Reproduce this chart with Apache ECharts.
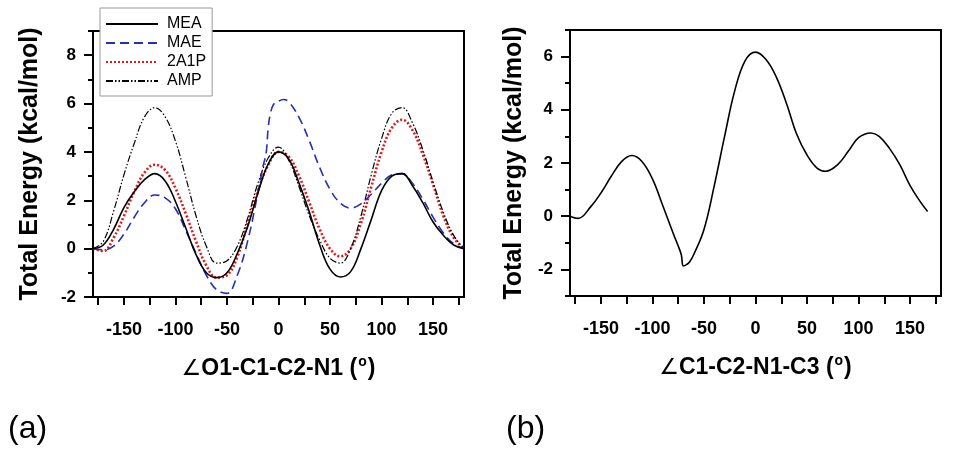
<!DOCTYPE html>
<html><head><meta charset="utf-8">
<script src="https://cdn.jsdelivr.net/npm/echarts@6/dist/echarts.min.js"></script>
<style>html,body{margin:0;padding:0;background:#fff}#c{width:955px;height:453px}</style>
</head><body><div id="c"></div>
<script>
// ---- Panel (a): O1-C1-C2-N1 dihedral scan ----
const angleA = [-180,-170,-160,-150,-140,-130,-120,-110,-100,-90,-80,-70,-60,-50,-40,-30,-20,-10,0,10,20,30,40,50,60,70,80,90,100,110,120,130,140,150,160,170,180];
const mea  = [0,0.15,0.8,1.7,2.35,2.85,3.1,2.8,1.95,0.85,-0.25,-1.0,-1.2,-1.0,-0.2,0.9,2.3,3.5,4.0,3.7,2.7,1.5,0.15,-0.85,-1.17,-0.95,0.0,1.2,2.4,3.0,3.1,2.6,1.9,1.1,0.55,0.15,0];
const a2p  = [0,-0.1,0.45,1.35,2.35,3.15,3.47,3.25,2.5,1.45,0.3,-0.7,-1.2,-1.1,-0.35,1.05,2.4,3.45,4.0,3.8,3.0,1.9,0.8,0.0,-0.32,0.0,1.05,2.55,4.0,5.0,5.33,4.9,3.9,2.65,1.35,0.45,0];
const amp  = [0,0.3,1.55,3.05,4.35,5.45,5.83,5.45,4.45,2.95,1.35,0.1,-0.6,-0.5,0.1,1.25,2.7,3.75,4.2,3.65,2.55,1.35,0.35,-0.4,-0.6,0.0,1.35,3.05,4.55,5.6,5.83,5.2,4.1,2.75,1.5,0.55,0];
const maeAngle = [-180,-170,-160,-150,-140,-130,-120,-110,-100,-90,-80,-70,-60,-50,-40,-30,-20,-15,-12,-10,-8,-5,0,5,10,20,30,40,50,60,70,80,90,100,110,120,130,140,150,160,170,180];
const mae  = [0,-0.05,0.1,0.6,1.3,1.9,2.22,2.1,1.65,0.75,-0.2,-1.1,-1.7,-1.85,-1.1,0.3,2.3,3.4,3.95,5.0,5.55,5.95,6.1,6.17,6.07,5.42,4.45,3.35,2.45,1.88,1.68,1.85,2.25,2.7,3.05,3.1,2.7,2.05,1.3,0.65,0.2,0];
const legendNames = ['MEA','MAE','2A1P','AMP'];

// ---- Panel (b): C1-C2-N1-C3 dihedral scan ----
const angleB  = [-180,-172,-160,-150,-140,-130,-120,-110,-100,-90,-80,-75,-72,-70,-67,-64,-60,-50,-40,-30,-20,-10,0,10,20,30,40,50,60,68,80,90,100,112,120,130,140,150,160,167];
const energyB = [0,-0.08,0.35,0.87,1.5,2.05,2.28,2.05,1.4,0.4,-0.63,-1.12,-1.45,-1.87,-1.82,-1.72,-1.45,-0.5,1.15,3.0,4.74,5.85,6.17,5.9,5.25,4.25,3.08,2.3,1.8,1.69,1.95,2.44,2.95,3.13,3.0,2.55,1.94,1.15,0.54,0.18];

// ---- ticks ----
const xLabelVals = [-150,-100,-50,0,50,100,150];
const xTickVals  = [-175,-150,-125,-100,-75,-50,-25,0,25,50,75,100,125,150,175];
const yMajorA = [-2,0,2,4,6,8];
const yMinorA = [-1,1,3,5,7,9];
const yMajorB = [-2,0,2,4,6];
const yMinorB = [-3,-1,1,3,5,7];

const FF = '"Liberation Sans", Arial, sans-serif';
const pairs = (xs, ys) => xs.map((x, i) => [x, ys[i]]);

function xAxisFor(g, title) {
  return {
    type: 'value', gridIndex: g, min: -180, max: 180, position: 'bottom',
    axisLine: { show: true, onZero: false, lineStyle: { color: '#000', width: 2 } },
    axisTick: { show: true, inside: false, length: 8, customValues: xTickVals, lineStyle: { color: '#000', width: 2 } },
    axisLabel: { customValues: xLabelVals, margin: 24, fontSize: 18, fontWeight: 'bold', fontFamily: FF, color: '#000' },
    splitLine: { show: false },
    name: title, nameLocation: 'middle', nameGap: 58,
    nameTextStyle: {
      color: '#000', fontFamily: FF,
      rich: {
        ang: { fontSize: 22, fontFamily: '"DejaVu Sans", sans-serif', fontWeight: 'normal', color: '#000' },
        b: { fontSize: 23, fontWeight: 'bold', fontFamily: FF, color: '#000' },
        sup: { fontSize: 14, fontWeight: 'bold', fontFamily: FF, color: '#000', verticalAlign: 'top', padding: [0, 1, 14, 1] }
      }
    }
  };
}
function yAxesFor(g, min, max, majors, minors, gap) {
  return [{
    type: 'value', gridIndex: g, min: min, max: max, position: 'left',
    axisLine: { show: true, onZero: false, lineStyle: { color: '#000', width: 2 } },
    axisTick: { show: true, length: 9, customValues: majors, lineStyle: { color: '#000', width: 2 } },
    axisLabel: { customValues: majors, margin: 17, fontSize: 17, fontWeight: 'bold', fontFamily: FF, color: '#000' },
    splitLine: { show: false },
    name: 'Total Energy (kcal/mol)', nameLocation: 'middle', nameGap: gap,
    nameTextStyle: { fontSize: 25, fontWeight: 'bold', fontFamily: FF, color: '#000' }
  }, {
    type: 'value', gridIndex: g, min: min, max: max, position: 'left',
    axisLine: { show: false, onZero: false },
    axisTick: { show: true, length: 5, customValues: minors, lineStyle: { color: '#000', width: 2 } },
    axisLabel: { show: false },
    splitLine: { show: false }
  }];
}

const chart = echarts.init(document.getElementById('c'), null, { renderer: 'canvas' });
const yA = yAxesFor(0, -2, 9, yMajorA, yMinorA, 50);
const yB = yAxesFor(1, -3, 7, yMajorB, yMinorB, 43);
chart.setOption({
  backgroundColor: '#fff',
  animation: false,
  grid: [
    { left: 93, right: 491, top: 31, bottom: 156, show: true, borderColor: '#000', borderWidth: 2, backgroundColor: 'transparent' },
    { left: 570, right: 14, top: 30, bottom: 157, show: true, borderColor: '#000', borderWidth: 2, backgroundColor: 'transparent' }
  ],
  xAxis: [
    xAxisFor(0, '{ang|∠}{b|O1-C1-C2-N1 (}{sup|o}{b|)}'),
    xAxisFor(1, '{ang|∠}{b|C1-C2-N1-C3 (}{sup|o}{b|)}')
  ],
  yAxis: [yA[0], yA[1], yB[0], yB[1]],
  legend: {
    data: legendNames,
    orient: 'vertical', left: 100, top: 8,
    padding: [8, 6, 7, 5],
    itemWidth: 52, itemHeight: 14, itemGap: 3,
    itemStyle: { opacity: 0 },
    backgroundColor: '#fff', borderColor: '#999', borderWidth: 1, borderRadius: 0,
    textStyle: { fontSize: 16, fontFamily: FF, color: '#000', padding: [0, 0, 0, 4] },
    selectedMode: false
  },
  graphic: [
    { type: 'text', left: 8, top: 413, style: { text: '(a)', font: '32px ' + FF, fill: '#000' } },
    { type: 'text', left: 506, top: 413, style: { text: '(b)', font: '32px ' + FF, fill: '#000' } }
  ],
  series: [
    { name: 'MEA', type: 'line', xAxisIndex: 0, yAxisIndex: 0, data: pairs(angleA, mea), smooth: 0.4, symbol: 'none',
      lineStyle: { color: '#000', width: 1.6, type: 'solid' }, itemStyle: { color: '#000' }, z: 5 },
    { name: 'MAE', type: 'line', xAxisIndex: 0, yAxisIndex: 0, data: pairs(maeAngle, mae), smooth: 0.4, symbol: 'none',
      lineStyle: { color: '#2a2fb0', width: 1.6, type: [9, 5] }, itemStyle: { color: '#2a2fb0' }, z: 4 },
    { name: '2A1P', type: 'line', xAxisIndex: 0, yAxisIndex: 0, data: pairs(angleA, a2p), smooth: 0.4, symbol: 'none',
      lineStyle: { color: '#e01818', width: 2.6, type: [2, 2] }, itemStyle: { color: '#e01818' }, z: 3 },
    { name: 'AMP', type: 'line', xAxisIndex: 0, yAxisIndex: 0, data: pairs(angleA, amp), smooth: 0.4, symbol: 'none',
      lineStyle: { color: '#000', width: 1.2, type: [7, 2, 1.5, 2, 1.5, 2] }, itemStyle: { color: '#000' }, z: 3 },
    { name: 'C1-C2-N1-C3', type: 'line', xAxisIndex: 1, yAxisIndex: 2, data: pairs(angleB, energyB), smooth: 0.4, symbol: 'none',
      lineStyle: { color: '#000', width: 1.6 }, itemStyle: { color: '#000' } }
  ]
});
</script>
</body></html>
